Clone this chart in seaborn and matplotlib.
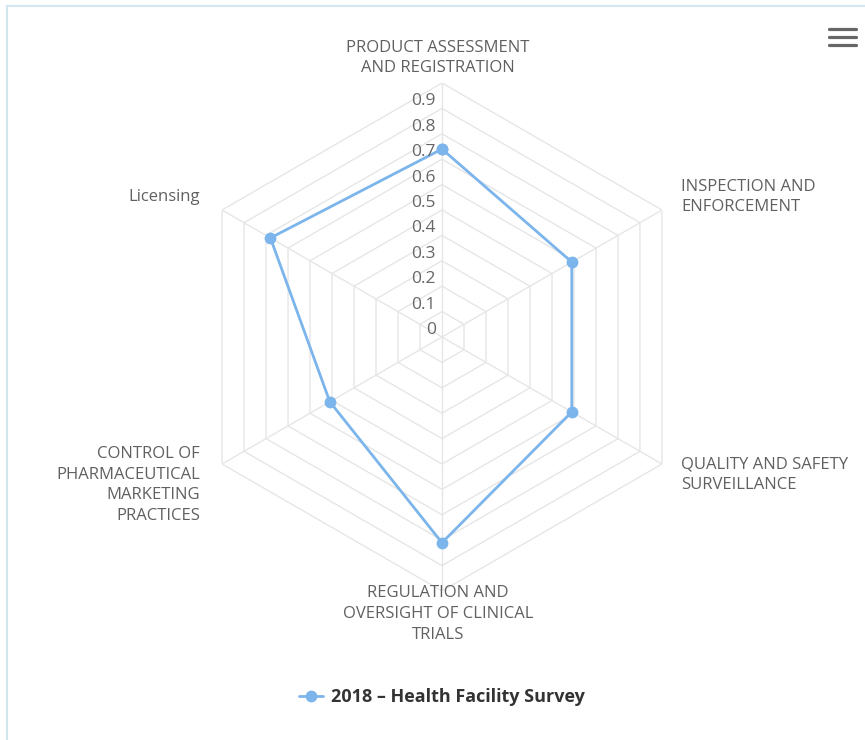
import numpy as np
import pandas as pd
import matplotlib
matplotlib.use("Agg")
import matplotlib.pyplot as plt
import seaborn as sns
from matplotlib.lines import Line2D

# ---- data ----
categories = [
    "PRODUCT ASSESSMENT\nAND REGISTRATION",
    "INSPECTION AND\nENFORCEMENT",
    "QUALITY AND SAFETY\nSURVEILLANCE",
    "REGULATION AND\nOVERSIGHT OF CLINICAL\nTRIALS",
    "CONTROL OF\nPHARMACEUTICAL\nMARKETING\nPRACTICES",
    "Licensing",
]
values = [0.74, 0.59, 0.59, 0.81, 0.51, 0.78]
series_name = "2018 \u2013 Health Facility Survey"
ring_values = [0.1, 0.2, 0.3, 0.4, 0.5, 0.6, 0.7, 0.8, 0.9, 1.0]
tick_values = [0.0, 0.1, 0.2, 0.3, 0.4, 0.5, 0.6, 0.7, 0.8, 0.9]
tick_labels = ["0", "0.1", "0.2", "0.3", "0.4", "0.5", "0.6", "0.7", "0.8", "0.9"]
y_max = 1.0

# ---- style ----
sns.set_theme(style="white")
plt.rcParams["font.family"] = ["Open Sans", "DejaVu Sans"]

W, H = 865, 740
fig = plt.figure(figsize=(W / 100, H / 100), dpi=100)
fig.patch.set_facecolor("white")

cx, cy, R = 442, 337, 254
ax = fig.add_axes([(cx - R) / W, (H - cy - R) / H, 2 * R / W, 2 * R / H], projection="polar")
ax.set_theta_zero_location("N")
ax.set_theta_direction(-1)
ax.grid(False)
ax.spines["polar"].set_visible(False)
ax.patch.set_alpha(0)

n = len(categories)
theta = np.linspace(0, 2 * np.pi, n, endpoint=False)
closed_theta = np.append(theta, 2 * np.pi)

grid_color = "#e6e6e6"
for r in ring_values:
    ax.plot(closed_theta, [r] * (n + 1), color=grid_color, lw=1, zorder=1)
for t in theta:
    ax.plot([t, t], [0, y_max], color=grid_color, lw=1, zorder=1)

df = pd.DataFrame({"theta": closed_theta, "value": values + [values[0]]})
sns.lineplot(data=df, x="theta", y="value", sort=False, estimator=None, ax=ax,
             color="#7cb5ec", lw=2, marker="o", markersize=8.5, markeredgewidth=0, zorder=3)
ax.set_ylim(0, y_max)
ax.set_xticks([])
ax.set_yticks([])
ax.set_xlabel("")
ax.set_ylabel("")

# radial tick labels
for v, lab in zip(tick_values, tick_labels):
    ax.annotate(lab, xy=(0, v), xytext=(-6, 7), textcoords="offset pixels",
                ha="right", va="center", color="#666666", fontsize=12.5, zorder=4)

# category labels
offsets = [(-4, 25, "center"), (19, 13, "left"), (19, -11, "left"),
           (-4, -23, "center"), (-22, -21, "right"), (-22, 13, "right")]
for t, lab, (dx, dy, ha) in zip(theta, categories, offsets):
    ax.annotate(lab, xy=(t, y_max), xytext=(dx, dy), textcoords="offset pixels",
                ha=ha, va="center", multialignment=ha, color="#606060",
                fontsize=12, linespacing=1.4, annotation_clip=False)

# legend
handle = Line2D([0], [0], color="#7cb5ec", lw=2, marker="o", markersize=8.5, markeredgewidth=0)
fig.legend([handle], [series_name], loc="center", bbox_to_anchor=(442 / W, 1 - 697 / H),
           frameon=False, prop={"weight": "bold", "size": 13}, handlelength=1.3,
           handletextpad=0.45, labelcolor="#333333")

# chart border (left & top)
bc = "#d3e5ee"
fig.add_artist(Line2D([7 / W, 7 / W], [0, 1 - 6 / H], transform=fig.transFigure, color=bc, lw=1.5))
fig.add_artist(Line2D([7 / W, 1], [1 - 6 / H, 1 - 6 / H], transform=fig.transFigure, color=bc, lw=1.5))

# menu icon
for yy in [29, 37, 45]:
    fig.add_artist(Line2D([829 / W, 856 / W], [1 - yy / H, 1 - yy / H], transform=fig.transFigure,
                          color="#666666", lw=2.3, solid_capstyle="round"))

fig.savefig("out.png", dpi=100)
